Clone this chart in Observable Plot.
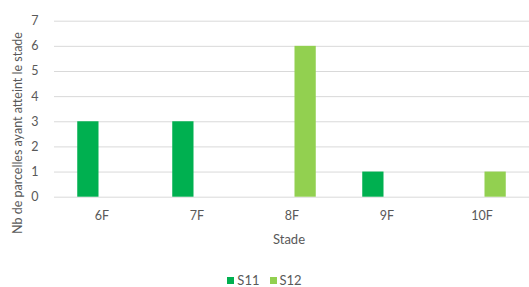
<!DOCTYPE html>
<html><head><meta charset="utf-8">
<script src="https://cdn.jsdelivr.net/npm/d3@7"></script>
<script src="https://cdn.jsdelivr.net/npm/@observablehq/plot@0.6"></script>
<style>
body{margin:0;background:#fff;}
#wrap{position:relative;width:529px;height:287px;font-family:Lato,sans-serif;color:#595959;overflow:hidden;}
#wrap svg{position:absolute;left:0;top:0;}
.ylab{position:absolute;left:18px;top:133px;transform:translate(-50%,-50%) rotate(-90deg);white-space:nowrap;font-size:12.5px;line-height:14px;}
.xlab{position:absolute;left:289px;top:239px;transform:translate(-50%,-50%);white-space:nowrap;font-size:13px;line-height:14px;}
.legend{position:absolute;left:0;width:529px;top:274px;display:flex;justify-content:center;align-items:center;font-size:13px;line-height:13px;}
.legend .it{display:flex;align-items:center;margin:0 5px;}
.legend .sw{width:7px;height:7px;margin-right:3px;}
</style></head><body><div id="wrap"></div>
<script>
const stades = ["6F","7F","8F","9F","10F"];
const series = ["S11","S12"];
const s11 = [3,3,0,1,0];
const s12 = [0,0,6,0,1];
const colors = ["#00B050","#92D050"];
const yTicks = [0,1,2,3,4,5,6,7];
const yLabel = "Nb de parcelles ayant atteint le stade";
const xLabel = "Stade";

const data = stades.flatMap((st,i)=>[
  {stade:st, serie:series[0], value:s11[i]},
  {stade:st, serie:series[1], value:s12[i]}
]);

const chart = Plot.plot({
  width:529, height:287,
  marginLeft:53, marginRight:0, marginTop:20.7, marginBottom:90.3,
  facet:{data, x:"stade"},
  fx:{domain:stades, padding:0, label:null, tickSize:0, tickPadding:14},
  x:{domain:series, axis:null, paddingInner:0.22, paddingOuter:0.853, round:false},
  y:{domain:[0,7], ticks:yTicks.length-1, tickSize:0, tickPadding:16, label:null},
  color:{domain:series, range:colors},
  style:{fontFamily:"Lato, sans-serif", fontSize:"12.5px", color:"#595959", background:"transparent"},
  marks:[
    Plot.ruleY(yTicks,{stroke:"#d9d9d9", strokeWidth:1}),
    Plot.barY(data,{x:"serie", y:"value", fill:"serie", filter:d=>d.value>0})
  ]
});
const wrap = document.getElementById("wrap");
wrap.appendChild(chart);

const yl = document.createElement("div"); yl.className="ylab"; yl.textContent=yLabel; wrap.appendChild(yl);
const xl = document.createElement("div"); xl.className="xlab"; xl.textContent=xLabel; wrap.appendChild(xl);
const lg = document.createElement("div"); lg.className="legend";
series.forEach((s,i)=>{
  const it=document.createElement("div"); it.className="it";
  const sw=document.createElement("div"); sw.className="sw"; sw.style.background=colors[i];
  const t=document.createElement("span"); t.textContent=s;
  it.appendChild(sw); it.appendChild(t); lg.appendChild(it);
});
wrap.appendChild(lg);
</script></body></html>
